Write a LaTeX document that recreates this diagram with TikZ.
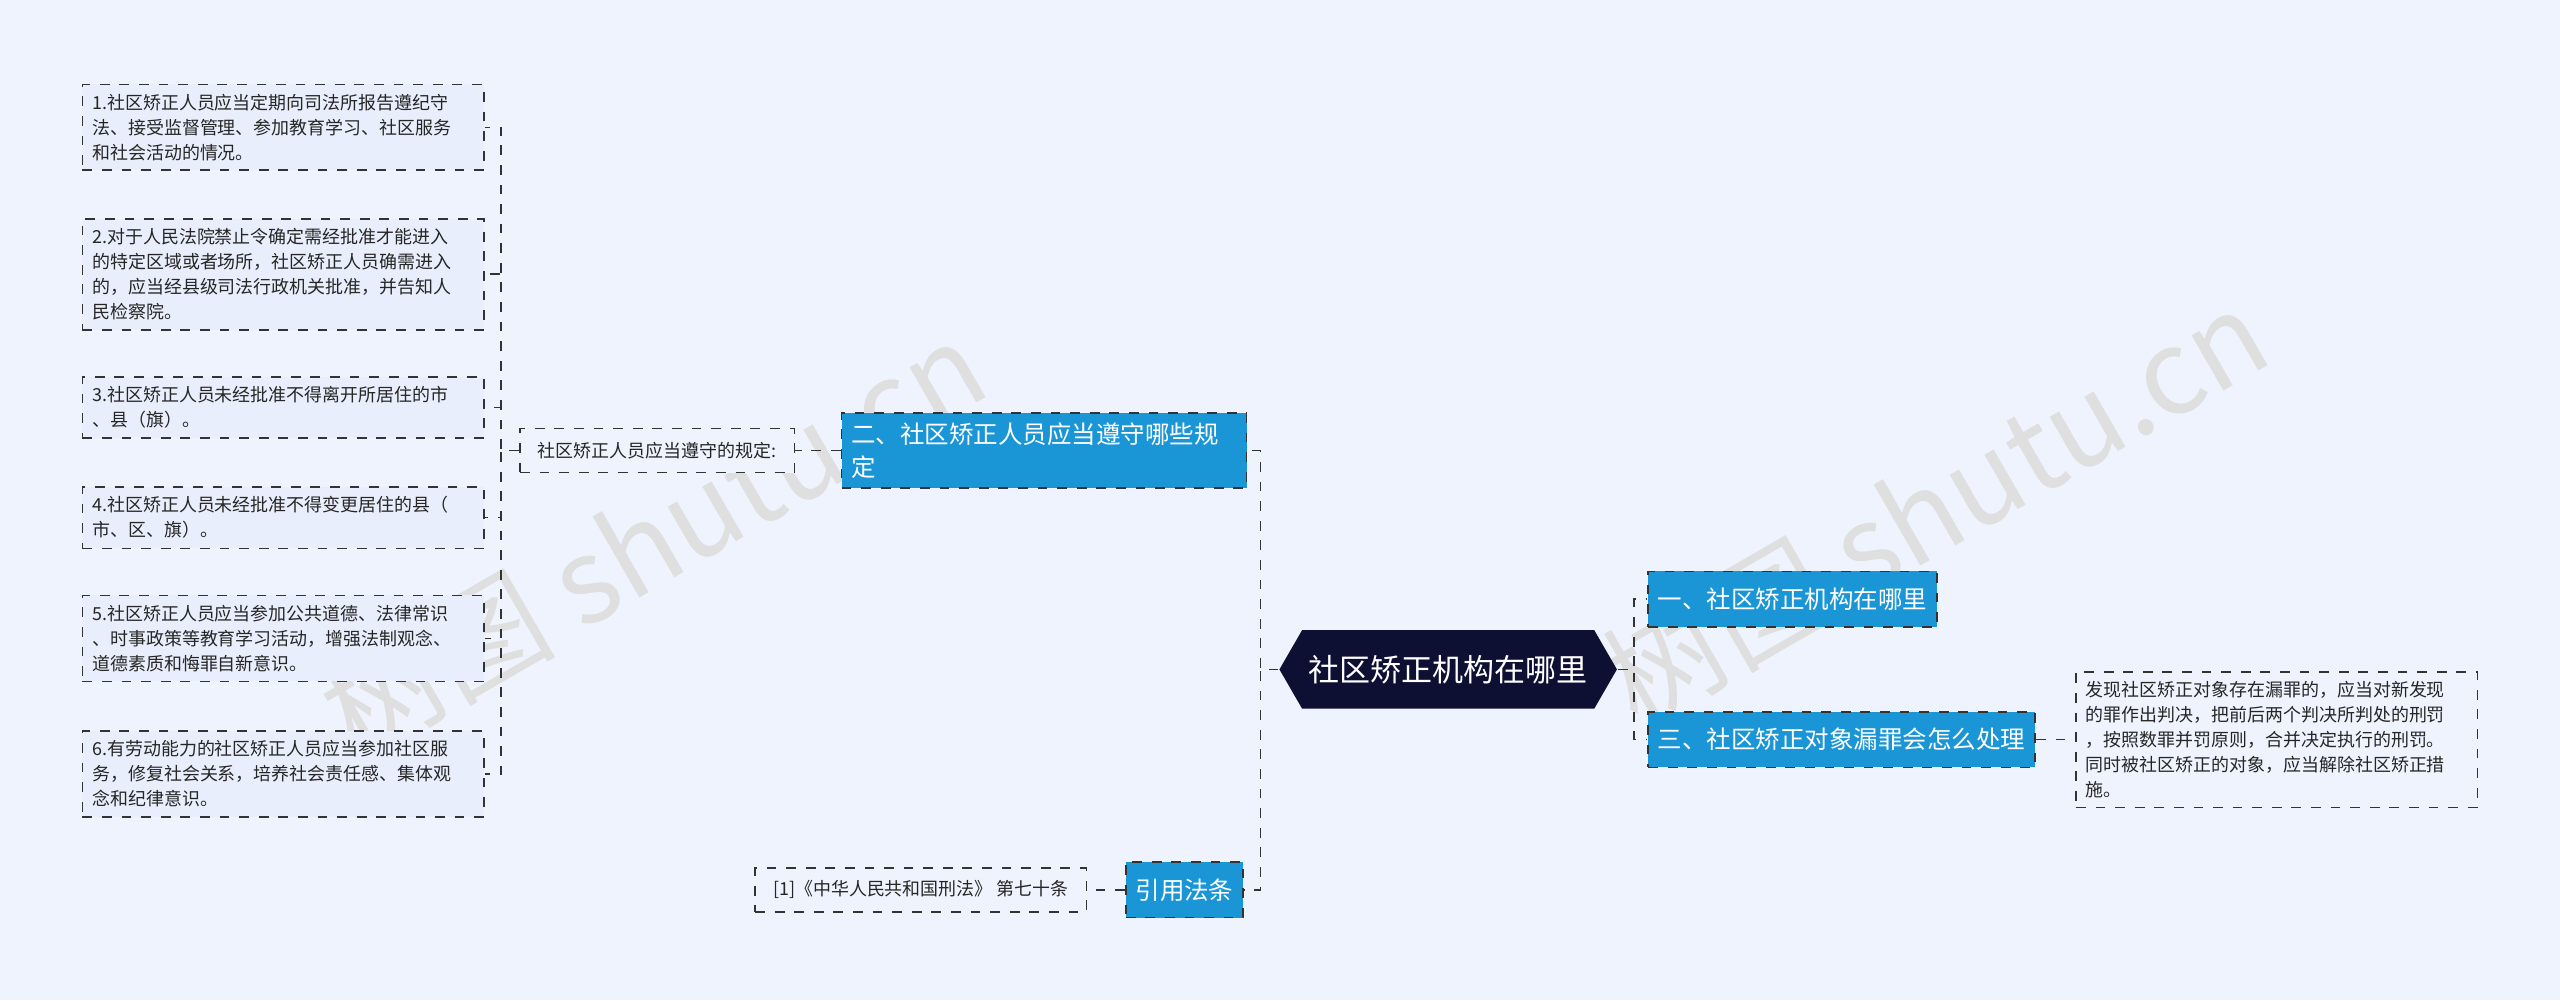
\documentclass[tikz,border=0pt]{standalone}
\usepackage{fontspec}
\setmainfont{Noto Sans CJK SC}
\usetikzlibrary{shapes.symbols}
\definecolor{bgblue}{HTML}{EEF3FE}
\definecolor{topblue}{HTML}{1A95D6}
\definecolor{navy}{HTML}{0D0F33}
\definecolor{leaffill}{HTML}{E8EEFB}
\definecolor{linegray}{HTML}{333333}
\tikzset{every picture/.style={line width=0.5pt}}
\tikzset{
  topic/.style={draw=linegray,dashed,fill=topblue,text=white,font=\fontsize{7.5}{10}\selectfont,inner sep=3pt,align=left,anchor=west},
  leaf/.style={draw=linegray,dashed,fill=leaffill,text=black!85,font=\fontsize{5.5}{7.6}\selectfont,inner sep=3pt,align=left,anchor=west},
  link/.style={draw=linegray,dashed}
}
\begin{document}
\begin{tikzpicture}[x=0.5pt,y=0.5pt,yscale=-1,xscale=1]
    \fill[bgblue] (0,0) rectangle (1568,612.5);
    \useasboundingbox (0,0) rectangle (1568,612.5);

    % Watermark
    \node[rotate=30,text=gray!25,font=\fontsize{36}{36}\selectfont] at (400,330) {树图 shutu.cn};
    \node[rotate=30,text=gray!25,font=\fontsize{36}{36}\selectfont] at (1185,310) {树图 shutu.cn};

    % Center
    \node (root) [signal,signal to=west and east,signal pointer angle=120,fill=navy,text=white,font=\fontsize{9.5}{12}\selectfont,minimum width=101pt,minimum height=24pt,inner sep=2pt] at (887,410) {社区矫正机构在哪里};

    % Right side
    \node (r1) [topic,minimum height=17pt] at (1009,367) {一、社区矫正机构在哪里};
    \node (r2) [topic,minimum height=17pt] at (1009,453) {三、社区矫正对象漏罪会怎么处理};
    \node (r2a) [leaf,fill=bgblue,text width=117pt] at (1271,453) {发现社区矫正对象存在漏罪的，应当对新发现\\的罪作出判决，把前后两个判决所判处的刑罚\\，按照数罪并罚原则，合并决定执行的刑罚。\\同时被社区矫正的对象，应当解除社区矫正措\\施。};

    % Left side
    \node (l1) [topic,text width=118pt] at (515,276) {二、社区矫正人员应当遵守哪些规\\定};
    \node (l1a) [leaf,fill=bgblue,minimum height=13.5pt,inner xsep=5.5pt] at (318,276) {社区矫正人员应当遵守的规定:};
    \node (l2) [topic,minimum height=17pt] at (689,545) {引用法条};
    \node (l2a) [leaf,fill=bgblue,minimum height=13.5pt,inner xsep=5.5pt] at (462,545) {[1]《中华人民共和国刑法》 第七十条};

    % Leaves
    \node (k1) [leaf,text width=117pt] at (50,78) {1.社区矫正人员应当定期向司法所报告遵纪守\\法、接受监督管理、参加教育学习、社区服务\\和社会活动的情况。};
    \node (k2) [leaf,text width=117pt] at (50,168) {2.对于人民法院禁止令确定需经批准才能进入\\的特定区域或者场所，社区矫正人员确需进入\\的，应当经县级司法行政机关批准，并告知人\\民检察院。};
    \node (k3) [leaf,text width=117pt] at (50,249.5) {3.社区矫正人员未经批准不得离开所居住的市\\、县（旗）。};
    \node (k4) [leaf,text width=117pt] at (50,317) {4.社区矫正人员未经批准不得变更居住的县（\\市、区、旗）。};
    \node (k5) [leaf,text width=117pt] at (50,391) {5.社区矫正人员应当参加公共道德、法律常识\\、时事政策等教育学习活动，增强法制观念、\\道德素质和悔罪自新意识。};
    \node (k6) [leaf,text width=117pt] at (50,474) {6.有劳动能力的社区矫正人员应当参加社区服\\务，修复社会关系，培养社会责任感、集体观\\念和纪律意识。};

    % Connectors
    \draw[link] (root.west) -- ++(-11,0) |- (l1.east);
    \draw[link] (root.west) -- ++(-11,0) |- (l2.east);
    \draw[link] (root.east) -- ++(10,0) |- (r1.west);
    \draw[link] (root.east) -- ++(10,0) |- (r2.west);
    \draw[link] (r2.east) -- (r2a.west);
    \draw[link] (l1.west) -- (l1a.east);
    \draw[link] (l2.west) -- (l2a.east);
    \foreach \k in {k1,k2,k3,k4,k5,k6}
      \draw[link] (l1a.west) -- ++(-11,0) |- (\k.east);
\end{tikzpicture}
\end{document}
